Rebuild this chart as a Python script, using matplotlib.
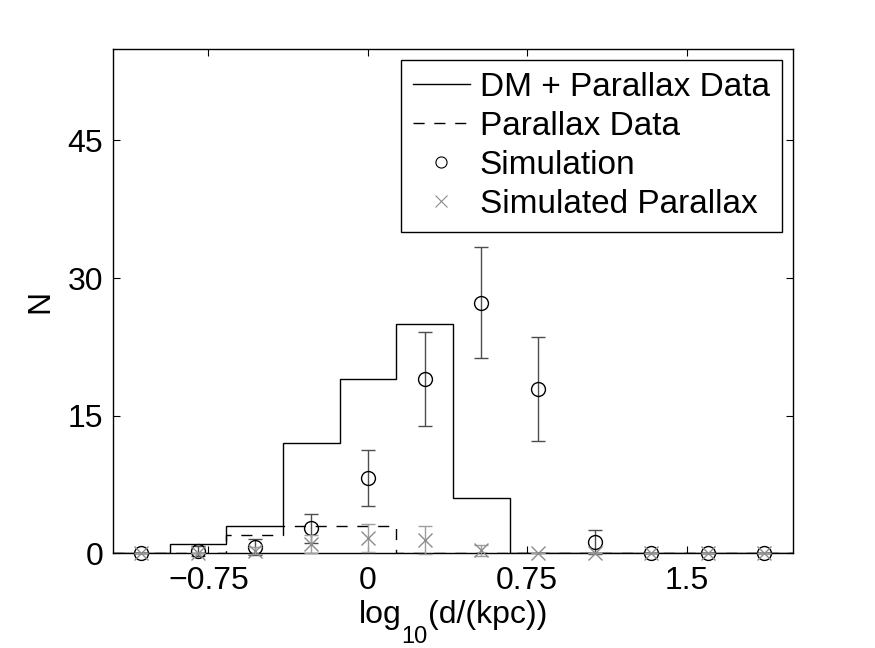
import matplotlib
matplotlib.use("Agg")
import matplotlib.pyplot as plt
from matplotlib.lines import Line2D

# ---- data ----
bin_edges = [-1.2, -0.933, -0.667, -0.4, -0.133, 0.133, 0.4, 0.667, 0.933, 1.2, 1.467, 1.733, 2.0]
bin_centers = [-1.067, -0.8, -0.533, -0.267, 0.0, 0.267, 0.533, 0.8, 1.067, 1.333, 1.6, 1.867]
dm_parallax_counts = [0, 1, 3, 12, 19, 25, 6, 0, 0, 0, 0, 0]
parallax_counts = [0, 0, 2, 3, 3, 0, 0, 0, 0, 0, 0, 0]
sim_mean = [0.0, 0.27, 0.72, 2.72, 8.25, 19.0, 27.3, 17.9, 1.27, 0.0, 0.0, 0.0]
sim_err = [0.0, 0.5, 0.85, 1.56, 3.05, 5.15, 6.05, 5.7, 1.3, 0.0, 0.0, 0.0]
simpar_mean = [0.0, 0.0, 0.3, 1.0, 1.7, 1.45, 0.35, 0.0, 0.0, 0.0, 0.0, 0.0]
simpar_err = [0.0, 0.0, 0.4, 1.0, 1.5, 1.5, 0.6, 0.0, 0.0, 0.0, 0.0, 0.0]
xticks = [-0.75, 0, 0.75, 1.5]
xtick_labels = ["\u22120.75", "0", "0.75", "1.5"]
yticks = [0, 15, 30, 45]
yticklabels = ["0", "15", "30", "45"]
legend_labels = ['DM + Parallax Data', 'Parallax Data', 'Simulation', 'Simulated Parallax']

plt.rcParams['font.family'] = ['Liberation Sans', 'DejaVu Sans']

W, H = 875, 648
fig = plt.figure(figsize=(W / 100, H / 100), dpi=100)
ax = fig.add_axes([0.129, 0.146, 0.777, 0.779])

dash = (0, (8, 7))
ax.stairs(dm_parallax_counts, bin_edges, color='k', linewidth=1.0, baseline=0)
ax.stairs(parallax_counts, bin_edges, color='k', linewidth=1.0, linestyle=dash, baseline=0)

eb1 = ax.errorbar(bin_centers, sim_mean, yerr=sim_err, fmt='o', mfc='none', mec='k',
                  mew=1.0, ms=10, ecolor='0.3', elinewidth=1.0, capsize=5, capthick=1.0,
                  clip_on=False, zorder=3)
eb2 = ax.errorbar(bin_centers, simpar_mean, yerr=simpar_err, fmt='x', mec='0.55',
                  mew=1.0, ms=10, ecolor='0.62', elinewidth=1.0, capsize=5, capthick=1.0,
                  clip_on=False, zorder=4)
for eb in (eb1, eb2):
    for art in eb.get_children():
        art.set_clip_on(False)

ax.set_xlim(-1.2, 2.0)
ax.set_ylim(0, 55)
ax.set_xticks(xticks)
ax.set_xticklabels(xtick_labels)
ax.set_yticks(yticks)
ax.set_yticklabels(yticklabels)
ax.tick_params(direction='in', length=5, width=0.8, top=True, right=True, labelsize=23)
ax.tick_params(axis='x', pad=9)
ax.tick_params(axis='y', pad=7)
for s in ax.spines.values():
    s.set_linewidth(1.0)

ax.set_ylabel('N', fontsize=23, labelpad=9)

# x label: log with a dropped subscript, as in the original
renderer = fig.canvas.get_renderer()
base_px = 25
t1 = fig.text(0, base_px / H, 'log', fontsize=23, va='baseline', ha='left')
t2 = fig.text(0, 5 / H, '10', fontsize=17, va='baseline', ha='left')
t3 = fig.text(0, base_px / H, '(d/(kpc))', fontsize=23, va='baseline', ha='left')
w1 = t1.get_window_extent(renderer).width
w2 = t2.get_window_extent(renderer).width
w3 = t3.get_window_extent(renderer).width
total = w1 + w2 + w3
x0 = 453 - total / 2
t1.set_x(x0 / W)
t2.set_x((x0 + w1) / W)
t3.set_x((x0 + w1 + w2) / W)

handles = [
    Line2D([], [], color='k', linewidth=1.0),
    Line2D([], [], color='k', linewidth=1.0, linestyle=dash),
    Line2D([], [], color='k', marker='o', mfc='none', linestyle='none', ms=8, mew=0.8),
    Line2D([], [], color='0.55', marker='x', linestyle='none', ms=8, mew=0.8),
]
leg = ax.legend(handles, legend_labels, loc='upper right', fontsize=24, frameon=True, fancybox=False,
                edgecolor='k', framealpha=1, handlelength=1.7, handletextpad=0.3,
                borderpad=0.36, labelspacing=0.24, borderaxespad=0.33)
leg.get_frame().set_linewidth(1.0)

fig.savefig('out.png', dpi=100)
